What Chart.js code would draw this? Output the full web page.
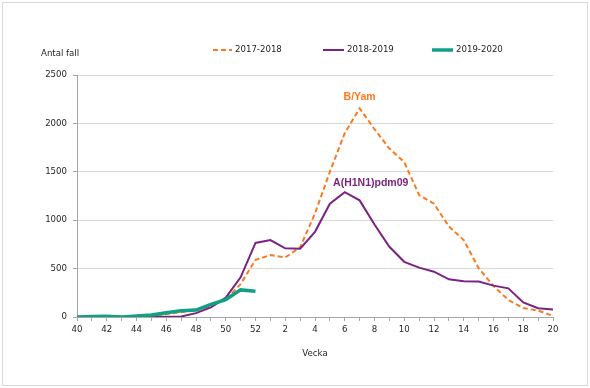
<!DOCTYPE html>
<html>
<head>
<meta charset="utf-8">
<script src="https://cdn.jsdelivr.net/npm/chart.js@4"></script>
<style>
html,body{margin:0;padding:0;background:#fff;}
canvas{display:block;}
</style>
</head>
<body>
<canvas id="c" width="590" height="388"></canvas>
<script>
const weeks = ['40','41','42','43','44','45','46','47','48','49','50','51','52',
  '1','2','3','4','5','6','7','8','9','10','11','12','13','14','15','16','17','18','19','20'];
const season1718 = [0,2,5,3,8,15,30,50,70,110,180,340,590,640,615,720,1070,1500,1900,2155,1940,1740,1600,1260,1170,935,795,505,320,176,92,66,12];
const season1819 = [0,0,2,0,2,3,3,5,40,100,200,410,765,795,710,706,880,1170,1290,1205,955,725,570,510,468,389,370,367,324,296,150,90,78];
const season1920 = [0,5,8,0,10,20,44,65,72,130,180,280,265];
const seriesNames = ['2017-2018','2018-2019','2019-2020'];
const yTicks = [0,500,1000,1500,2000,2500];
const yTitle = 'Antal fall';
const xTitle = 'Vecka';
const notes = [{text:'B/Yam', series:0, week:'7'},{text:'A(H1N1)pdm09', series:1, week:'6'}];

const COL = ['#fb7a1e','#7b2383','#12a085'];
const FONT = 'DejaVu Sans';
const FS = 8.6;
const TXT = '#262626';

const overlay = {
  id:'overlay',
  afterDraw(chart){
    const ctx = chart.ctx;
    ctx.save();
    ctx.strokeStyle = '#d9d9d9';
    ctx.lineWidth = 1;
    ctx.strokeRect(2.5,2.5,585,383);
    ctx.fillStyle = TXT;
    ctx.font = FS + 'px "' + FONT + '"';
    ctx.textBaseline = 'middle';
    ctx.textAlign = 'left';
    ctx.fillText(yTitle, 41, 54);
    const items = [
      {x:213, w:19, dash:[5,3], lw:2},
      {x:323, w:21, dash:[], lw:2},
      {x:432, w:21, dash:[], lw:3.5}
    ];
    items.forEach((it,i)=>{
      ctx.beginPath();
      ctx.setLineDash(it.dash);
      ctx.strokeStyle = COL[i];
      ctx.lineWidth = it.lw;
      ctx.moveTo(it.x, 50);
      ctx.lineTo(it.x+it.w, 50);
      ctx.stroke();
      ctx.setLineDash([]);
      ctx.fillStyle = TXT;
      ctx.fillText(seriesNames[i], it.x+it.w+3, 50);
    });
    const xs = chart.scales.x, ys = chart.scales.y;
    ctx.font = 'bold 10.5px "Liberation Sans"';
    ctx.textAlign = 'center';
    {
      const n = notes[0];
      const i = weeks.indexOf(n.week);
      const px = xs.getPixelForValue(i);
      const py = ys.getPixelForValue(season1718[i]);
      ctx.fillStyle = COL[0];
      ctx.fillText(n.text, px, py - 11);
    }
    {
      const n = notes[1];
      const i = weeks.indexOf(n.week);
      const px = xs.getPixelForValue(i);
      const py = ys.getPixelForValue(season1819[i]);
      ctx.fillStyle = COL[1];
      ctx.fillText(n.text, px + 26, py - 9);
    }
    ctx.restore();
  }
};

new Chart(document.getElementById('c'), {
  type:'line',
  data:{
    labels: weeks,
    datasets:[
      {label:seriesNames[0], data:season1718, borderColor:COL[0], borderWidth:2, borderDash:[5,3], pointRadius:0, tension:0, fill:false, order:3},
      {label:seriesNames[1], data:season1819, borderColor:COL[1], borderWidth:2, pointRadius:0, tension:0, fill:false, order:2},
      {label:seriesNames[2], data:season1920, borderColor:COL[2], borderWidth:3.5, pointRadius:0, tension:0, fill:false, order:1}
    ]
  },
  options:{
    responsive:false,
    animation:false,
    devicePixelRatio:1,
    layout:{padding:{top:75,right:37,left:0,bottom:0}},
    plugins:{legend:{display:false}, tooltip:{enabled:false}, title:{display:false}},
    scales:{
      x:{
        offset:false,
        afterFit(s){ s.height = 71; },
        grid:{display:true, drawOnChartArea:false, drawTicks:true, tickLength:4, tickColor:'#a6a6a6', color:'#a6a6a6'},
        border:{display:true, color:'#a6a6a6', width:1},
        ticks:{autoSkip:false, maxRotation:0, minRotation:0, padding:4, color:TXT,
          font:{family:FONT, size:FS},
          callback(v,i){ return i%2===0 ? weeks[i] : ''; }},
        title:{display:true, text:xTitle, color:TXT, font:{family:FONT, size:FS}, padding:{top:0,bottom:28.8}}
      },
      y:{
        min:0, max:2500,
        afterFit(s){ s.width = 77; },
        afterBuildTicks(s){ s.ticks = yTicks.map(v=>({value:v})); },
        grid:{color:'#d9d9d9', tickColor:'#a6a6a6', tickLength:4, drawTicks:true},
        border:{display:true, color:'#a6a6a6', width:1},
        ticks:{padding:6, color:TXT, font:{family:FONT, size:FS}, callback(v){ return String(v); }}
      }
    }
  },
  plugins:[overlay]
});
</script>
</body>
</html>
